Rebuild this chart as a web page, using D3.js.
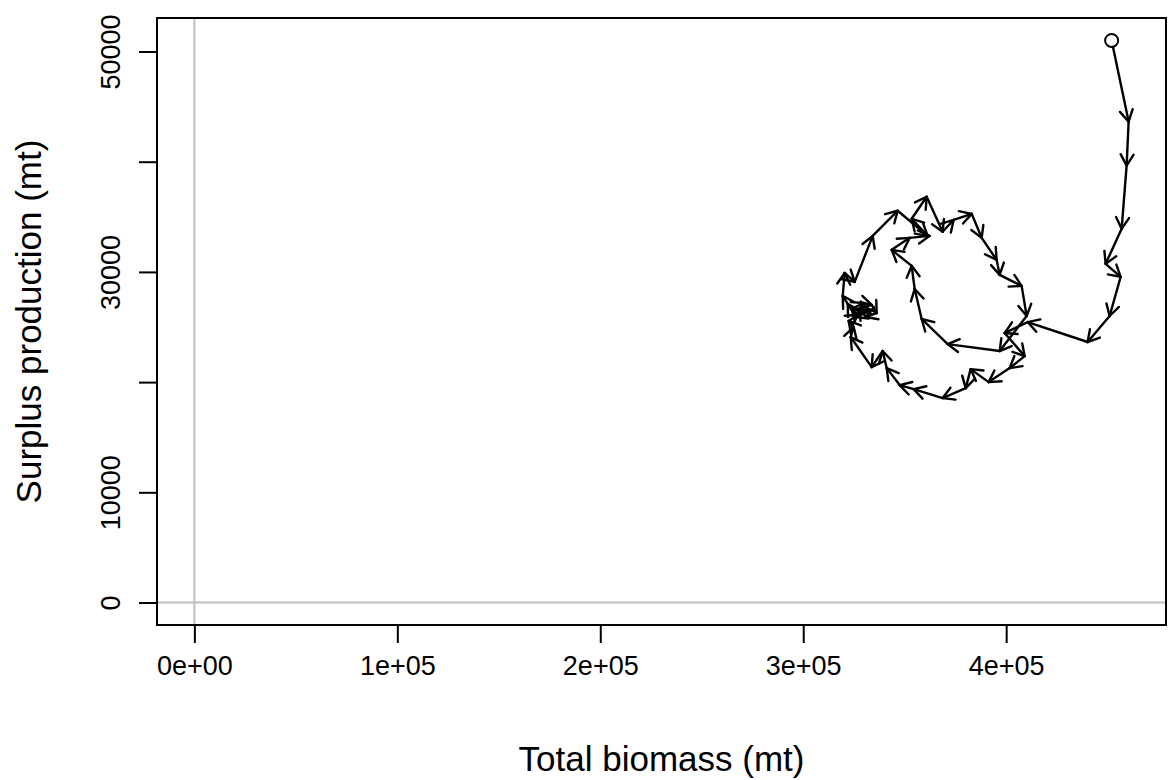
<!DOCTYPE html>
<html><head><meta charset="utf-8">
<script src="https://cdn.jsdelivr.net/npm/d3@7"></script>
<style>body{margin:0;background:#fff} text{font-family:"Liberation Sans",Arial,Helvetica,sans-serif}</style>
</head><body><svg id="c" width="1170" height="780"></svg>
<script>
// Total biomass (mt), by year
const biomass = [451960,460340,459350,456890,449010,456400,450980,440140,410580,399250,
  409110,401720,391370,382500,380040,368710,354430,347530,341130,339160,
  333740,323390,324870,322400,326840,323880,329800,333740,336200,330780,
  327820,332750,325860,321920,319450,320440,325360,334230,346540,361320,
  353440,360830,368710,374130,383000,387930,395310,396790,407620,410090,
  396790,371180,358360,354920,353440,343590,352450,362300];
// Surplus production (mt), by year
const surplus = [51000,43640,39640,33910,30730,29550,26000,23640,25450,24450,
  22360,21270,20000,21180,19450,18550,19360,19730,21270,22820,
  21360,24090,25000,25550,26090,26640,27180,27000,26270,25910,
  26730,26450,25910,27090,27820,29910,29090,33270,35550,33270,
  34820,36820,33640,34730,35270,33090,31090,29730,28730,26000,
  22820,23450,25730,28450,30550,32000,33090,33270];

const xTicks = [0, 100000, 200000, 300000, 400000];
const xTickLabels = ["0e+00", "1e+05", "2e+05", "3e+05", "4e+05"];
const yTicks = [0, 10000, 20000, 30000, 40000, 50000];
const yTickLabels = ["0", "10000", "", "30000", "", "50000"];
const xTitle = "Total biomass (mt)";
const yTitle = "Surplus production (mt)";

const svg = d3.select("#c");
const box = {l:157, r:1166, t:18, b:625};
const FS = 27, FT = 35;
const xmax = d3.max(biomass), ymax = d3.max(surplus);
const x = d3.scaleLinear().domain([-0.04*xmax, 1.04*xmax]).range([box.l, box.r]);
const y = d3.scaleLinear().domain([-0.04*ymax, 1.04*ymax]).range([box.b, box.t]);

// reference lines at zero
svg.append("line").attr("x1", x(0)).attr("x2", x(0)).attr("y1", box.t).attr("y2", box.b)
  .attr("stroke", "#bebebe").attr("stroke-width", 2);
svg.append("line").attr("x1", box.l).attr("x2", box.r).attr("y1", y(0)).attr("y2", y(0))
  .attr("stroke", "#bebebe").attr("stroke-width", 2);

// axes
const gx = svg.append("g").attr("transform", `translate(0,${box.b})`)
  .call(d3.axisBottom(x).tickValues(xTicks).tickFormat((d,i)=>xTickLabels[i]).tickSize(18).tickPadding(13));
gx.select(".domain").remove();
gx.selectAll("line").attr("stroke", "#000").attr("stroke-width", 2);
gx.selectAll("text").attr("font-size", FS).attr("fill", "#000").attr("dy", "0.71em");

const gy = svg.append("g").attr("transform", `translate(${box.l},0)`)
  .call(d3.axisLeft(y).tickValues(yTicks).tickFormat((d,i)=>yTickLabels[i]).tickSize(18));
gy.select(".domain").remove();
gy.selectAll("line").attr("stroke", "#000").attr("stroke-width", 2);
gy.selectAll("text").attr("font-size", FS).attr("fill", "#000")
  .attr("transform", "rotate(-90)").attr("x", 0).attr("y", -37).attr("dy", 0)
  .attr("text-anchor", "middle");

// box
svg.append("rect").attr("x", box.l).attr("y", box.t).attr("width", box.r-box.l).attr("height", box.b-box.t)
  .attr("fill", "none").attr("stroke", "#000").attr("stroke-width", 2);

// titles
svg.append("text").attr("x", (box.l+box.r)/2).attr("y", 771).attr("text-anchor", "middle")
  .attr("font-size", FT).text(xTitle);
svg.append("text").attr("transform", `translate(41,${(box.t+box.b)/2}) rotate(-90)`)
  .attr("text-anchor", "middle").attr("font-size", FT).text(yTitle);

// trajectory with arrows
const pts = biomass.map((b,i)=>[x(b), y(surplus[i])]);
const L = 13, ang = Math.PI/6;
const g = svg.append("g").attr("stroke", "#000").attr("stroke-width", 2.4).attr("fill", "none")
  .attr("stroke-linecap", "round").attr("stroke-linejoin", "round");
for (let i = 1; i < pts.length; i++) {
  const [x0,y0] = pts[i-1], [x1,y1] = pts[i];
  const a = Math.atan2(y1-y0, x1-x0);
  g.append("path").attr("d", `M${x0},${y0}L${x1},${y1}`);
  const w1 = [x1 - L*Math.cos(a-ang), y1 - L*Math.sin(a-ang)];
  const w2 = [x1 - L*Math.cos(a+ang), y1 - L*Math.sin(a+ang)];
  g.append("path").attr("d", `M${w1[0]},${w1[1]}L${x1},${y1}L${w2[0]},${w2[1]}`);
}
svg.append("circle").attr("cx", pts[0][0]).attr("cy", pts[0][1]).attr("r", 6.5)
  .attr("fill", "#fff").attr("stroke", "#000").attr("stroke-width", 2);
</script></body></html>
